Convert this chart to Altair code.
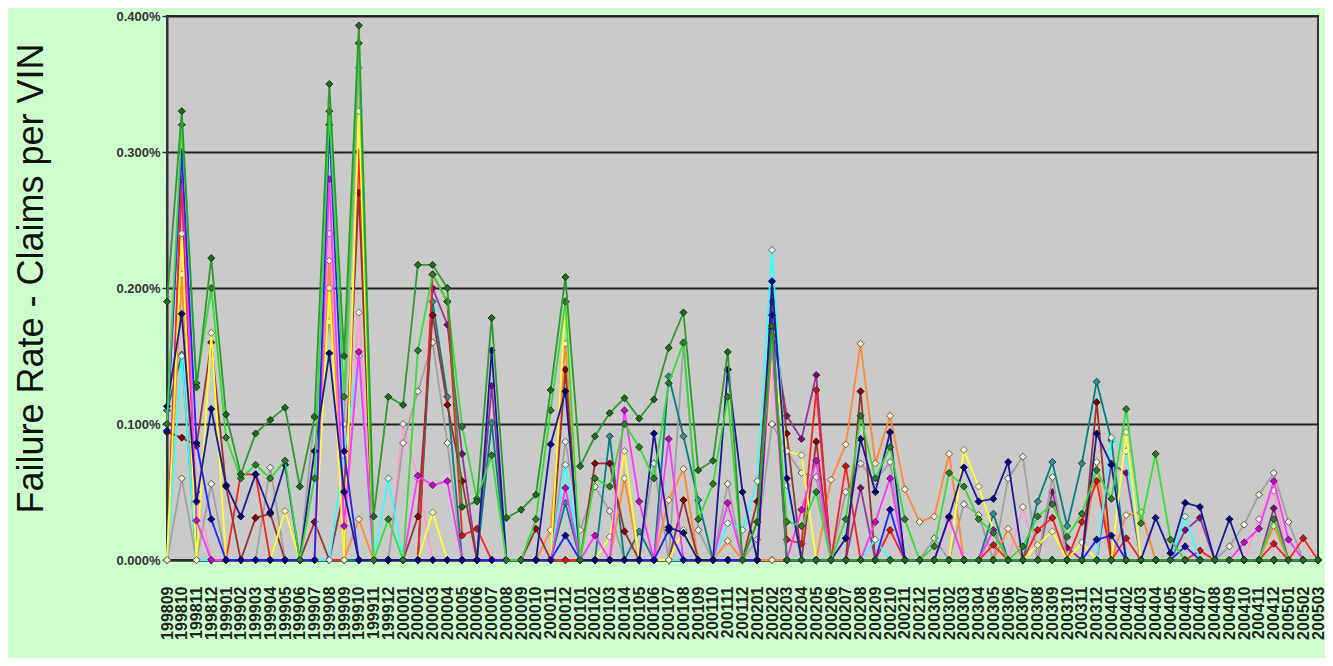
import altair as alt
import pandas as pd

months = [
    "199809", "199810", "199811", "199812",
    "199901", "199902", "199903", "199904", "199905", "199906", "199907", "199908", "199909", "199910", "199911", "199912",
    "200001", "200002", "200003", "200004", "200005", "200006", "200007", "200008", "200009", "200010", "200011", "200012",
    "200101", "200102", "200103", "200104", "200105", "200106", "200107", "200108", "200109", "200110", "200111", "200112",
    "200201", "200202", "200203", "200204", "200205", "200206", "200207", "200208", "200209", "200210", "200211", "200212",
    "200301", "200302", "200303", "200304", "200305", "200306", "200307", "200308", "200309", "200310", "200311", "200312",
    "200401", "200402", "200403", "200404", "200405", "200406", "200407", "200408", "200409", "200410", "200411", "200412",
    "200501", "200502", "200503",
]

# values in percent (claims per VIN)
s_pink = [
    0, 0.27, 0.05, 0, 0, 0, 0, 0, 0, 0,
    0, 0.24, 0, 0.182, 0, 0, 0.10, 0.06, 0, 0,
    0, 0, 0, 0, 0, 0, 0, 0, 0, 0,
    0, 0, 0, 0, 0, 0, 0, 0, 0, 0,
    0, 0.15, 0, 0, 0, 0, 0, 0, 0, 0,
    0, 0, 0, 0, 0, 0, 0, 0, 0.039, 0,
    0, 0, 0, 0, 0, 0, 0, 0, 0, 0,
    0, 0, 0, 0, 0.03, 0.051, 0, 0, 0,
]
s_purple = [
    0, 0.28, 0, 0, 0, 0, 0, 0, 0, 0,
    0, 0, 0, 0, 0, 0, 0, 0, 0.20, 0.173,
    0.078, 0, 0.128, 0, 0, 0, 0, 0, 0, 0,
    0, 0, 0, 0, 0, 0, 0, 0, 0, 0,
    0, 0.17, 0.106, 0.089, 0.136, 0, 0, 0.053, 0, 0,
    0, 0, 0, 0, 0, 0, 0, 0, 0, 0,
    0.05, 0.009, 0, 0, 0.071, 0.064, 0, 0, 0, 0.022,
    0.031, 0, 0, 0, 0, 0.038, 0, 0, 0,
]
s_grey = [
    0, 0.06, 0, 0.056, 0, 0, 0, 0.068, 0, 0,
    0.106, 0.175, 0.10, 0.362, 0, 0, 0.086, 0.124, 0.16, 0.086,
    0, 0, 0, 0, 0, 0, 0, 0.087, 0.022, 0.054,
    0.036, 0, 0, 0.071, 0, 0.159, 0.022, 0, 0.056, 0,
    0.015, 0.10, 0.08, 0.064, 0.061, 0, 0.05, 0.071, 0.058, 0.072,
    0, 0, 0.016, 0, 0.041, 0.033, 0, 0.06, 0.076, 0,
    0.061, 0, 0, 0, 0, 0, 0, 0, 0, 0,
    0, 0, 0.01, 0.026, 0.048, 0.064, 0.028, 0, 0,
]
s_teal = [
    0.11, 0.151, 0, 0, 0, 0, 0, 0, 0, 0,
    0, 0, 0, 0, 0, 0, 0, 0, 0.19, 0.12,
    0, 0, 0.101, 0, 0, 0, 0, 0.042, 0, 0,
    0.091, 0, 0.021, 0, 0.135, 0.091, 0.044, 0, 0, 0,
    0, 0, 0, 0, 0, 0, 0, 0, 0, 0,
    0, 0, 0, 0, 0, 0, 0.034, 0, 0, 0.043,
    0.072, 0.025, 0.071, 0.131, 0.088, 0, 0, 0, 0, 0,
    0, 0, 0, 0, 0, 0, 0, 0, 0,
]
s_orange = [
    0, 0.21, 0, 0, 0, 0, 0, 0, 0, 0,
    0, 0.22, 0, 0.03, 0, 0, 0, 0, 0, 0,
    0, 0, 0, 0, 0, 0, 0.022, 0.159, 0, 0,
    0, 0.06, 0, 0, 0.044, 0.067, 0, 0, 0.014, 0,
    0, 0, 0, 0, 0, 0.059, 0.085, 0.159, 0.071, 0.106,
    0.052, 0.028, 0.032, 0.078, 0, 0, 0, 0.023, 0, 0,
    0, 0, 0, 0.072, 0, 0.033, 0.035, 0, 0, 0,
    0, 0, 0, 0, 0, 0.025, 0, 0, 0,
]
s_red = [
    0, 0.28, 0, 0, 0, 0.063, 0.063, 0, 0, 0,
    0, 0, 0, 0.30, 0, 0, 0, 0, 0.21, 0.19,
    0.018, 0.023, 0, 0, 0, 0, 0, 0, 0, 0,
    0, 0, 0, 0, 0, 0, 0, 0, 0, 0,
    0, 0.16, 0.015, 0.012, 0.125, 0, 0.069, 0, 0, 0.022,
    0, 0, 0, 0, 0, 0, 0.011, 0, 0, 0.022,
    0.031, 0, 0.028, 0.058, 0, 0.016, 0, 0, 0, 0,
    0.007, 0, 0, 0, 0, 0.012, 0, 0.016, 0,
]
s_maroon = [
    0.094, 0.09, 0.084, 0.16, 0.054, 0, 0.031, 0.034, 0, 0,
    0.028, 0, 0.051, 0.27, 0, 0, 0, 0.032, 0.18, 0.114,
    0.058, 0, 0, 0, 0, 0.023, 0, 0.14, 0, 0.071,
    0.071, 0.021, 0, 0, 0, 0.044, 0, 0, 0, 0,
    0.043, 0.19, 0.093, 0, 0.087, 0, 0, 0.124, 0, 0,
    0, 0, 0, 0, 0, 0, 0, 0, 0, 0,
    0, 0, 0, 0.116, 0, 0, 0, 0, 0, 0,
    0, 0, 0, 0, 0, 0, 0, 0, 0,
]
s_cyan = [
    0, 0.15, 0, 0, 0, 0, 0, 0, 0, 0,
    0, 0, 0.077, 0.15, 0, 0.06, 0, 0, 0, 0,
    0, 0, 0, 0, 0, 0, 0, 0.07, 0, 0,
    0, 0, 0, 0, 0, 0, 0, 0, 0.027, 0.022,
    0.058, 0.228, 0.055, 0, 0, 0, 0, 0, 0.015, 0,
    0, 0, 0, 0, 0, 0, 0, 0, 0, 0,
    0, 0, 0, 0, 0.09, 0.08, 0, 0, 0, 0.032,
    0, 0, 0, 0, 0, 0, 0, 0, 0,
]
s_yellow = [
    0, 0.24, 0, 0.167, 0, 0, 0, 0, 0.036, 0,
    0, 0.20, 0, 0.33, 0, 0, 0, 0, 0.035, 0,
    0, 0, 0, 0, 0, 0, 0, 0.19, 0, 0,
    0.017, 0.08, 0, 0, 0, 0.022, 0, 0, 0, 0,
    0, 0.15, 0.08, 0.077, 0, 0, 0, 0, 0, 0,
    0, 0, 0, 0, 0.081, 0.054, 0.022, 0, 0, 0.011,
    0.021, 0, 0.013, 0, 0, 0.094, 0, 0, 0, 0,
    0, 0, 0, 0, 0, 0, 0, 0, 0,
]
s_magenta = [
    0.10, 0.30, 0.029, 0, 0, 0, 0, 0, 0, 0,
    0, 0.28, 0.025, 0.153, 0, 0, 0, 0.062, 0.055, 0.058,
    0, 0, 0, 0, 0, 0, 0, 0.053, 0, 0.018,
    0, 0.11, 0.043, 0, 0.089, 0, 0, 0, 0.042, 0,
    0, 0.16, 0, 0.037, 0.073, 0, 0, 0, 0.028, 0.06,
    0, 0, 0, 0.031, 0, 0, 0.022, 0, 0, 0,
    0, 0, 0, 0, 0, 0, 0, 0, 0, 0,
    0, 0, 0, 0.013, 0.023, 0.058, 0.015, 0, 0,
]
s_blue = [
    0.095, 0.30, 0.086, 0.03, 0, 0, 0, 0, 0, 0,
    0, 0.32, 0.08, 0, 0, 0, 0, 0, 0, 0,
    0, 0, 0, 0, 0, 0, 0, 0.018, 0, 0,
    0, 0, 0, 0, 0.022, 0, 0, 0, 0, 0,
    0, 0.18, 0, 0, 0, 0, 0, 0, 0, 0.037,
    0, 0, 0, 0, 0, 0, 0, 0, 0, 0,
    0, 0, 0, 0.015, 0.018, 0, 0, 0, 0, 0.01,
    0, 0, 0, 0, 0, 0, 0, 0, 0,
]
s_navy = [
    0.113, 0.181, 0.043, 0.111, 0.055, 0.032, 0.063, 0.035, 0.07, 0,
    0.08, 0.152, 0.05, 0, 0, 0, 0, 0, 0, 0,
    0, 0, 0.154, 0, 0, 0, 0.085, 0.124, 0, 0,
    0, 0, 0, 0.093, 0.024, 0.02, 0, 0, 0.14, 0.05,
    0, 0.205, 0.06, 0, 0, 0, 0.016, 0.089, 0.05, 0.094,
    0, 0, 0, 0.032, 0.068, 0.043, 0.045, 0.072, 0, 0,
    0, 0, 0, 0.093, 0.07, 0, 0, 0.031, 0.005, 0.042,
    0.039, 0, 0.03, 0, 0, 0, 0, 0, 0,
]
s_green = [
    0.10, 0.32, 0.13, 0.20, 0.09, 0.06, 0.07, 0.06, 0.073, 0,
    0.06, 0.33, 0.12, 0.38, 0, 0.03, 0, 0.154, 0.21, 0.19,
    0.098, 0.045, 0.077, 0, 0, 0.03, 0.11, 0.19, 0, 0.06,
    0.054, 0.10, 0.083, 0.06, 0.13, 0.16, 0.03, 0.056, 0.12, 0,
    0.028, 0.165, 0.028, 0.025, 0.05, 0, 0.03, 0.106, 0.06, 0.083,
    0.03, 0, 0.01, 0.064, 0.054, 0.03, 0.02, 0, 0.01, 0.032,
    0.041, 0.017, 0.034, 0.066, 0.045, 0.111, 0.027, 0.078, 0.015, 0,
    0, 0, 0, 0, 0, 0.03, 0, 0, 0,
]
s_darkgreen = [
    0.19, 0.33, 0.127, 0.222, 0.107, 0.063, 0.093, 0.103, 0.112, 0.054,
    0.105, 0.35, 0.15, 0.393, 0.032, 0.12, 0.114, 0.217, 0.217, 0.20,
    0.039, 0.043, 0.178, 0.031, 0.037, 0.048, 0.125, 0.208, 0.069, 0.091,
    0.108, 0.119, 0.104, 0.118, 0.156, 0.182, 0.066, 0.073, 0.153, 0,
    0.028, 0.172, 0, 0, 0, 0, 0, 0, 0, 0,
    0, 0, 0, 0, 0, 0, 0, 0, 0, 0,
    0, 0, 0, 0, 0, 0, 0, 0, 0, 0,
    0, 0, 0, 0, 0, 0, 0, 0, 0,
]

HOLLOW = "#eef0dc"
# (name, values, line colour, marker fill, marker stroke) in drawing order
series = [
    ("pink", s_pink, "#ff99cc", HOLLOW, "#666666"),
    ("purple", s_purple, "#993399", "#800080", "#333333"),
    ("grey", s_grey, "#a0a0a0", HOLLOW, "#555555"),
    ("teal", s_teal, "#008080", "#2f8f8f", "#224444"),
    ("orange", s_orange, "#ff8833", HOLLOW, "#885522"),
    ("red", s_red, "#ff2020", "#cc1111", "#552222"),
    ("maroon", s_maroon, "#993333", "#8b0000", "#331111"),
    ("cyan", s_cyan, "#33ffff", HOLLOW, "#337777"),
    ("yellow", s_yellow, "#ffff33", HOLLOW, "#777733"),
    ("magenta", s_magenta, "#ff33ff", "#cc00cc", "#552255"),
    ("blue", s_blue, "#2222ff", "#000099", "#111144"),
    ("navy", s_navy, "#1a1a99", "#000080", "#111133"),
    ("green", s_green, "#33dd33", "#2a7a2a", "#1a3a1a"),
    ("darkgreen", s_darkgreen, "#2e9a2e", "#1e6b1e", "#123a12"),
]

rows = []
for name, vals, lc, mf, ms in series:
    assert len(vals) == len(months), name
    for m, v in zip(months, vals):
        rows.append({"series": name, "month": m, "v": v})
df = pd.DataFrame(rows)

x_enc = alt.X(
    "month:O",
    sort=months,
    scale=alt.Scale(type="point", padding=0),
    axis=alt.Axis(
        title=None,
        labelAngle=-90,
        labelFont="Liberation Sans",
        labelFontSize=16,
        labelFontWeight="bold",
        labelColor="#222222",
        labelPadding=26,
        labelOverlap=False,
        ticks=False,
        domainColor="#333333",
        domainWidth=2,
        grid=False,
    ),
)
y_enc = alt.Y(
    "v:Q",
    scale=alt.Scale(domain=[0, 0.4], nice=False),
    axis=alt.Axis(
        title="Failure Rate - Claims per VIN",
        titleFont="Liberation Sans",
        titleFontSize=36,
        titleFontWeight="normal",
        titleColor="#111111",
        titleAngle=270,
        titleX=-136,
        titleY=262,
        titleAlign="center",
        titleBaseline="middle",
        values=[0, 0.1, 0.2, 0.3, 0.4],
        labelExpr="format(datum.value, '.3f') + '%'",
        labelFont="Liberation Sans",
        labelFontSize=13,
        labelFontWeight="bold",
        labelColor="#333333",
        labelPadding=2,
        tickSize=5,
        tickColor="#333333",
        tickWidth=1.5,
        domainColor="#333333",
        domainWidth=2,
        grid=True,
        gridColor="#222222",
        gridWidth=2,
        gridOpacity=1,
    ),
)

layers = []
for name, vals, lc, mf, ms in series:
    base = alt.Chart(df).transform_filter(alt.datum.series == name)
    layers.append(
        base.mark_line(color=lc, strokeWidth=1.8, clip=False).encode(x=x_enc, y=y_enc)
    )
    layers.append(
        base.mark_point(
            shape="diamond", filled=True, fill=mf, stroke=ms,
            strokeWidth=1, size=50, opacity=1,
        ).encode(x=x_enc, y=y_enc)
    )

chart = alt.layer(*layers).properties(
    width=1151,
    height=544,
    autosize=alt.AutoSizeParams(type="none"),
    padding={"left": 159, "top": 8, "right": 7, "bottom": 98},
    background="#ccffcc",
).configure_view(
    fill="#cacaca",
    stroke="#333333",
    strokeWidth=2,
)

chart.save("out.html", embed_options={"renderer": "svg", "actions": False})
